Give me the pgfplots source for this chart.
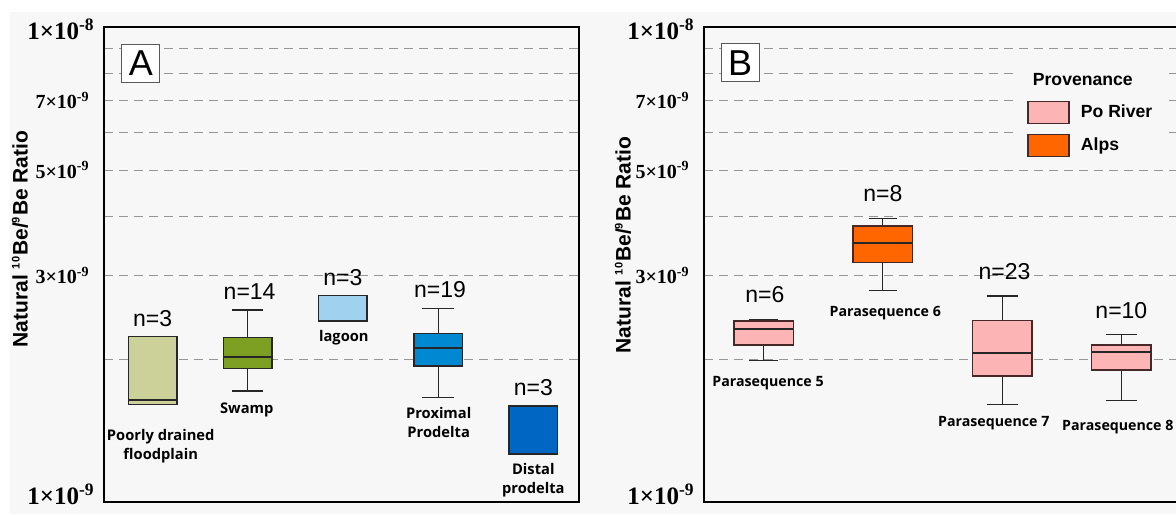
\documentclass[border=0pt]{standalone}
\usepackage{pgfplots}
\pgfplotsset{compat=1.18}
\usepgfplotslibrary{statistics}
\usepackage{fontspec}
\setmainfont{Liberation Sans}
\newfontfamily\tickfont{Liberation Serif}
\newfontfamily\catfont{Open Sans}

\definecolor{bg}{RGB}{247,247,247}
\definecolor{cFlood}{RGB}{204,209,153}
\definecolor{cSwamp}{RGB}{125,160,35}
\definecolor{cLagoon}{RGB}{160,210,240}
\definecolor{cProx}{RGB}{0,136,210}
\definecolor{cDist}{RGB}{0,102,196}
\definecolor{cPo}{RGB}{252,180,180}
\definecolor{cAlps}{RGB}{255,102,0}
\definecolor{gridc}{RGB}{150,150,150}
\definecolor{edgeB}{RGB}{70,40,40}

\newcommand{\bigt}[2]{{\tickfont\bfseries\fontsize{12.5}{13}\selectfont #1×10\textsuperscript{#2}}}
\newcommand{\smt}[2]{{\tickfont\bfseries\fontsize{10}{11}\selectfont #1×10\textsuperscript{#2}\hspace*{2.5pt}}}
\newcommand{\nlab}{\fontsize{11.5}{12}\selectfont}
\newcommand{\isosup}[1]{\textsuperscript{\fontsize{5.5}{6}\selectfont #1}}

\pgfplotsset{
  every axis/.append style={
    scale only axis, height=237.5pt, anchor=south west,
    ymin=1e-9, ymax=1e-8,
    axis background/.style={fill=bg},
    xtick=\empty,
    ytick={1e-9,2e-9,3e-9,4e-9,5e-9,6e-9,7e-9,8e-9,9e-9,1e-8},
    yticklabels={{\raisebox{4pt}[\height][\depth]{\bigt{1}{-9}}},{},{\smt{3}{-9}},{},{\smt{5}{-9}},{},{\smt{7}{-9}},{},{},{\raisebox{-1pt}[\height][\depth]{\bigt{1}{-8}}}},
    ymajorgrids, yminorticks=false,
    major grid style={gridc, line width=0.5pt, dash pattern=on 4.7pt off 2.8pt},
    major tick length=0pt,
    axis line style={line width=0.9pt, black},
    yticklabel style={anchor=east, inner sep=0pt, xshift=-4.5pt},
    clip=false,
    boxplot/draw direction=y,
    boxplot/every box/.style={draw=black!85, line width=0.75pt},
    boxplot/every median/.style={draw=black!85, line width=1.1pt},
    boxplot/every whisker/.style={draw=black!85, line width=0.6pt},
  },
}
\tikzset{
  catA/.style={font=\catfont\bfseries\fontsize{7.35}{9.75}\selectfont, align=center},
  catB/.style={font=\catfont\bfseries\fontsize{7.1}{8}\selectfont, align=center},
}

\begin{document}
\begin{tikzpicture}[trim left=0pt, trim right=588pt]
\fill[white] (0,0) rectangle (588pt,257pt);
\fill[bg] (5pt,0) rectangle (592pt,251pt);

% ---------- Panel A ----------
\begin{axis}[ymode=log, at={(52pt,6pt)}, width=237.5pt, xmin=0.49, xmax=5.48]
\addplot[forget plot, fill=cFlood, boxplot prepared={draw position=1,
  lower whisker=1.606e-9, lower quartile=1.606e-9, median=1.640e-9,
  upper quartile=2.230e-9, upper whisker=2.230e-9, box extend=0.51, whisker extend=0}] coordinates {};
\addplot[forget plot, fill=cSwamp, boxplot prepared={draw position=2,
  lower whisker=1.713e-9, lower quartile=1.912e-9, median=2.022e-9,
  upper quartile=2.222e-9, upper whisker=2.536e-9, box extend=0.51, whisker extend=0.33}] coordinates {};
\addplot[forget plot, fill=cLagoon, boxplot prepared={draw position=3,
  lower whisker=2.408e-9, lower quartile=2.408e-9, median=2.408e-9,
  upper quartile=2.719e-9, upper whisker=2.719e-9, box extend=0.51, whisker extend=0}] coordinates {};
\addplot[forget plot, fill=cProx, boxplot prepared={draw position=4,
  lower whisker=1.661e-9, lower quartile=1.936e-9, median=2.113e-9,
  upper quartile=2.266e-9, upper whisker=2.552e-9, box extend=0.51, whisker extend=0.33}] coordinates {};
\addplot[forget plot, fill=cDist, boxplot prepared={draw position=5,
  lower whisker=1.262e-9, lower quartile=1.262e-9, median=1.262e-9,
  upper quartile=1.593e-9, upper whisker=1.593e-9, box extend=0.51, whisker extend=0}] coordinates {};

\node[font=\nlab] at (axis cs:1,2.428e-9) {n=3};
\node[font=\nlab] at (axis cs:2.02,2.771e-9) {n=14};
\node[font=\nlab] at (axis cs:3,2.972e-9) {n=3};
\node[font=\nlab] at (axis cs:4.02,2.795e-9) {n=19};
\node[font=\nlab] at (axis cs:5,1.740e-9) {n=3};

\node[catA] at (axis cs:1.086,1.310e-9) {Poorly drained\\floodplain};
\node[catA] at (axis cs:1.99,1.562e-9) {Swamp};
\node[catA] at (axis cs:3.01,2.222e-9) {lagoon};
\node[catA] at (axis cs:4.006,1.470e-9) {Proximal\\Prodelta};
\node[catA] at (axis cs:5,1.111e-9) {Distal\\prodelta};
\end{axis}

% ---------- Panel B ----------
\begin{axis}[ymode=log, at={(352pt,6pt)}, width=238.5pt, xmin=0.5, xmax=4.5,
  legend style={at={(0.652,0.928)}, anchor=north west, draw=none, fill=bg,
    inner xsep=6pt, inner ysep=4pt, row sep=4.6pt,
    font=\bfseries\fontsize{8.8}{10}\selectfont,
    nodes={inner sep=1pt, text height=7pt, text depth=2pt},
    /tikz/every odd column/.append style={column sep=4.5pt}},
  legend cell align=left]
\addplot[forget plot, fill=cPo, boxplot/every box/.style={draw=edgeB, line width=0.75pt},
  boxplot prepared={draw position=1,
  lower whisker=1.988e-9, lower quartile=2.141e-9, median=2.310e-9,
  upper quartile=2.408e-9, upper whisker=2.424e-9, box extend=0.5, whisker extend=0.24}] coordinates {};
\addplot[forget plot, fill=cAlps, boxplot/every box/.style={draw=edgeB, line width=0.75pt},
  boxplot prepared={draw position=2,
  lower whisker=2.786e-9, lower quartile=3.196e-9, median=3.515e-9,
  upper quartile=3.817e-9, upper whisker=3.957e-9, box extend=0.5, whisker extend=0.24}] coordinates {};
\addplot[forget plot, fill=cPo, boxplot/every box/.style={draw=edgeB, line width=0.75pt},
  boxplot prepared={draw position=3,
  lower whisker=1.606e-9, lower quartile=1.842e-9, median=2.056e-9,
  upper quartile=2.413e-9, upper whisker=2.715e-9, box extend=0.5, whisker extend=0.26}] coordinates {};
\addplot[forget plot, fill=cPo, boxplot/every box/.style={draw=edgeB, line width=0.75pt},
  boxplot prepared={draw position=4,
  lower whisker=1.637e-9, lower quartile=1.899e-9, median=2.066e-9,
  upper quartile=2.141e-9, upper whisker=2.250e-9, box extend=0.5, whisker extend=0.26}] coordinates {};

\addlegendimage{empty legend}
\addlegendentry{\hspace*{-24pt}Provenance}
\addlegendimage{legend image code/.code={\draw[fill=cPo, draw=edgeB, line width=0.75pt] (0pt,-5.5pt) rectangle (20.5pt,5.5pt);}}
\addlegendentry{Po River}
\addlegendimage{legend image code/.code={\draw[fill=cAlps, draw=edgeB, line width=0.75pt] (0pt,-5.5pt) rectangle (20.5pt,5.5pt);}}
\addlegendentry{Alps}

\node[font=\nlab] at (axis cs:1.01,2.729e-9) {n=6};
\node[font=\nlab] at (axis cs:2,4.451e-9) {n=8};
\node[font=\nlab] at (axis cs:3.02,3.054e-9) {n=23};
\node[font=\nlab] at (axis cs:4,2.536e-9) {n=10};

\node[catB] at (axis cs:1.037,1.778e-9) {Parasequence 5};
\node[catB] at (axis cs:2.02,2.496e-9) {Parasequence 6};
\node[catB] at (axis cs:2.93,1.464e-9) {Parasequence 7};
\node[catB] at (axis cs:3.97,1.440e-9) {Parasequence 8};
\end{axis}

% panel letters and axis titles
\node[draw=black!65, fill=white, line width=0.5pt, minimum size=19pt, inner sep=0pt,
  font=\fontsize{18}{18}\selectfont] at (70.4pt,225.25pt) {A};
\node[draw=black!65, fill=white, line width=0.5pt, minimum size=19pt, inner sep=0pt,
  font=\fontsize{18}{18}\selectfont] at (370pt,225.5pt) {B};
\node[rotate=90, font=\bfseries\fontsize{10.5}{12}\selectfont] at (10pt,137.5pt)
  {Natural \isosup{10}Be/\isosup{9}Be Ratio};
\node[rotate=90, font=\bfseries\fontsize{10.5}{12}\selectfont] at (311.5pt,134.5pt)
  {Natural \isosup{10}Be/\isosup{9}Be Ratio};
\end{tikzpicture}
\end{document}
